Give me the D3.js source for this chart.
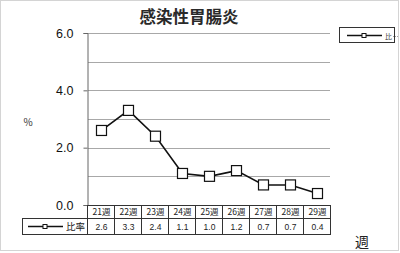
<!DOCTYPE html>
<html><head><meta charset="utf-8">
<script src="https://cdn.jsdelivr.net/npm/d3@7"></script>
<style>body{margin:0;background:#fff}svg{display:block}</style>
</head><body>
<script>
const title = "感染性胃腸炎";
const categories = ["21週","22週","23週","24週","25週","26週","27週","28週","29週"];
const values = [2.6, 3.3, 2.4, 1.1, 1.0, 1.2, 0.7, 0.7, 0.4];
const valueLabels = ["2.6","3.3","2.4","1.1","1.0","1.2","0.7","0.7","0.4"];
const seriesName = "比率";
const yTicks = [0, 2, 4, 6];
const gridValues = [1, 2, 3, 4, 5, 6];

const W = 400, H = 253;
const svg = d3.select("body").append("svg").attr("width", W).attr("height", H);
const font = "'Noto Sans CJK JP', 'Noto Sans', sans-serif";

svg.append("rect").attr("x",0.5).attr("y",0.5).attr("width",398).attr("height",250)
  .attr("fill","#fff").attr("stroke","#d4d4d4");

const L = 88, R = 331, T = 33, B = 205;
const x = d3.scaleBand().domain(categories).range([L, R]);
const y = d3.scaleLinear().domain([0, 6]).range([B, T]);

// gridlines
svg.append("g").selectAll("line").data(gridValues).join("line")
  .attr("x1", L).attr("x2", R - 1).attr("y1", d => Math.round(y(d)) + 0.5).attr("y2", d => Math.round(y(d)) + 0.5)
  .attr("stroke", "#a8a8a8").attr("stroke-width", 1);

// left axis
const yAxis = d3.axisLeft(y).tickValues(yTicks).tickSize(4).tickFormat(d3.format(".1f"));
const ga = svg.append("g").attr("transform", `translate(${L - 0.5},0)`).call(yAxis);
ga.select(".domain").attr("stroke", "#666");
ga.selectAll(".tick line").attr("stroke", "#666");
ga.selectAll(".tick text").attr("x", -14).attr("font-family", "Arial, 'Liberation Sans', sans-serif")
  .attr("font-size", 12.5).attr("fill", "#111");

// title
svg.append("text").attr("x", 189).attr("y", 23).attr("text-anchor", "middle")
  .attr("font-family", font).attr("font-size", 16.5).attr("font-weight", "bold").attr("fill", "#2a2a2a").text(title);

// % label
svg.append("text").attr("x", 28).attr("y", 126).attr("text-anchor", "middle")
  .attr("font-family", font).attr("font-size", 10).attr("fill", "#333").text("%");

// line
const line = d3.line().x((d, i) => x(categories[i]) + x.bandwidth() / 2).y(d => y(d));
svg.append("path").datum(values).attr("d", line).attr("fill", "none").attr("stroke", "#111").attr("stroke-width", 1.6);
svg.append("g").selectAll("rect").data(values).join("rect")
  .attr("x", (d, i) => x(categories[i]) + x.bandwidth() / 2 - 5)
  .attr("y", d => y(d) - 5).attr("width", 10).attr("height", 10)
  .attr("fill", "#fff").attr("stroke", "#111").attr("stroke-width", 1.2);

// data table
const r1T = B, r1B = 218, r2B = 234, tL = 22;
const tg = svg.append("g").attr("stroke", "#333").attr("stroke-width", 1).attr("fill", "none");
tg.append("line").attr("x1", L).attr("x2", R).attr("y1", r1T + 0.5).attr("y2", r1T + 0.5);
tg.append("line").attr("x1", tL).attr("x2", R).attr("y1", r1B + 0.5).attr("y2", r1B + 0.5);
tg.append("line").attr("x1", tL).attr("x2", R).attr("y1", r2B + 0.5).attr("y2", r2B + 0.5);
tg.append("line").attr("x1", tL + 0.5).attr("x2", tL + 0.5).attr("y1", r1B).attr("y2", r2B);
const edges = categories.map(c => x(c)).concat([R]);
tg.selectAll("line.v").data(edges).join("line").attr("class", "v")
  .attr("x1", d => Math.round(d) - 0.5).attr("x2", d => Math.round(d) - 0.5).attr("y1", r1T).attr("y2", r2B);

svg.append("g").selectAll("text").data(categories).join("text")
  .attr("x", d => x(d) + x.bandwidth() / 2).attr("y", 215).attr("text-anchor", "middle")
  .attr("font-family", font).attr("font-size", 8.5).attr("fill", "#222").text(d => d);
svg.append("g").selectAll("text").data(valueLabels).join("text")
  .attr("x", (d, i) => x(categories[i]) + x.bandwidth() / 2).attr("y", 229.5).attr("text-anchor", "middle")
  .attr("font-family", "Arial, 'Liberation Sans', sans-serif").attr("font-size", 8.5).attr("fill", "#222").text(d => d);

// table legend key
svg.append("line").attr("x1", 28).attr("x2", 63).attr("y1", 226.5).attr("y2", 226.5).attr("stroke", "#111").attr("stroke-width", 1.5);
svg.append("rect").attr("x", 43).attr("y", 224.5).attr("width", 4).attr("height", 4).attr("fill", "#fff").attr("stroke", "#111").attr("stroke-width", 1);
svg.append("text").attr("x", 66).attr("y", 230).attr("font-family", font).attr("font-size", 9.5).attr("fill", "#222").text(seriesName);

// legend box (top right)
svg.append("rect").attr("x", 339.5).attr("y", 27.5).attr("width", 55).attr("height", 15).attr("fill", "#fff").attr("stroke", "#333");
svg.append("line").attr("x1", 347).attr("x2", 382).attr("y1", 35.5).attr("y2", 35.5).attr("stroke", "#111").attr("stroke-width", 1.5);
svg.append("rect").attr("x", 362).attr("y", 33.5).attr("width", 4).attr("height", 4).attr("fill", "#fff").attr("stroke", "#111").attr("stroke-width", 1);
svg.append("text").attr("x", 385).attr("y", 38.5).attr("font-family", font).attr("font-size", 7).attr("fill", "#444").text(seriesName.slice(0,1));
svg.append("line").attr("x1", 393).attr("x2", 399).attr("y1", 36.5).attr("y2", 36.5).attr("stroke", "#888").attr("stroke-width", 0.8).attr("stroke-dasharray", "1,1");

// x axis title
svg.append("text").attr("x", 362).attr("y", 247).attr("text-anchor", "middle")
  .attr("font-family", font).attr("font-size", 14).attr("fill", "#222").text("週");
</script>
</body></html>
